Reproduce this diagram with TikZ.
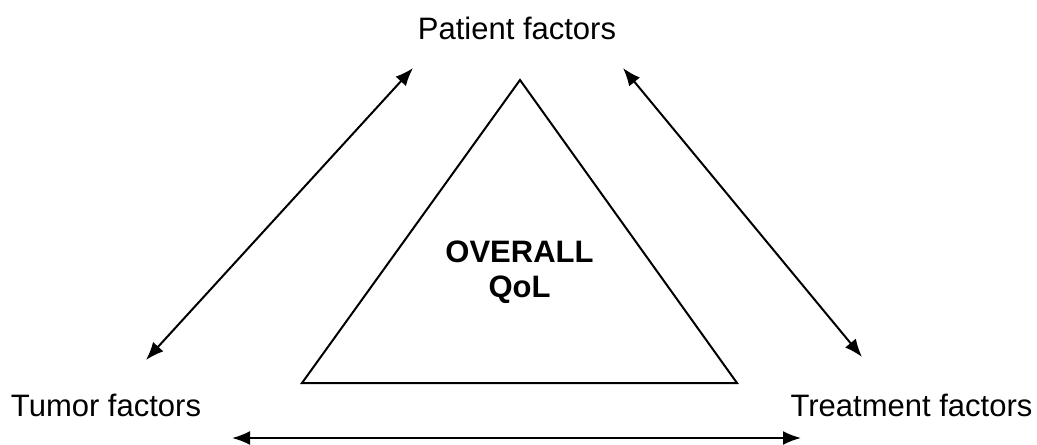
\documentclass[tikz,border=0pt]{standalone}
\usepackage{fontspec}
\setmainfont{Liberation Sans}
\usetikzlibrary{arrows.meta}
\tikzset{
    factor/.style={anchor=base, inner sep=0pt, font=\fontsize{15.5}{18}\selectfont},
    link/.style={{Latex[length=9pt,width=7pt]}-{Latex[length=9pt,width=7pt]}, line width=1pt},
}
\begin{document}
\begin{tikzpicture}[x=0.5pt, y=-0.5pt]
    \useasboundingbox (0,0) rectangle (1037,444);
    % labels
    \node[factor] (patient) at (517,40) {Patient factors};
    \node[factor] (tumor) at (106,416) {Tumor factors};
    \node[factor] (treatment) at (911.5,416) {Treatment factors};
    % triangle
    \coordinate (top) at (520,80);
    \coordinate (bl) at (302,383);
    \coordinate (br) at (737,383);
    \draw[line width=1pt] (top) -- (br) -- (bl) -- cycle;
    \node[factor, align=center, font=\fontsize{15.5}{17.5}\selectfont\bfseries] (qol) at (519.5,297) {OVERALL\\QoL};
    % arrow ends
    \coordinate (pl) at (413,68);
    \coordinate (tl) at (146,360);
    \coordinate (pr) at (623,68);
    \coordinate (tr) at (862,357);
    \coordinate (bl2) at (232,438);
    \coordinate (br2) at (801,438);
    \draw[link] (tl) -- (pl);
    \draw[link] (pr) -- (tr);
    \draw[link] (bl2) -- (br2);
\end{tikzpicture}
\end{document}
